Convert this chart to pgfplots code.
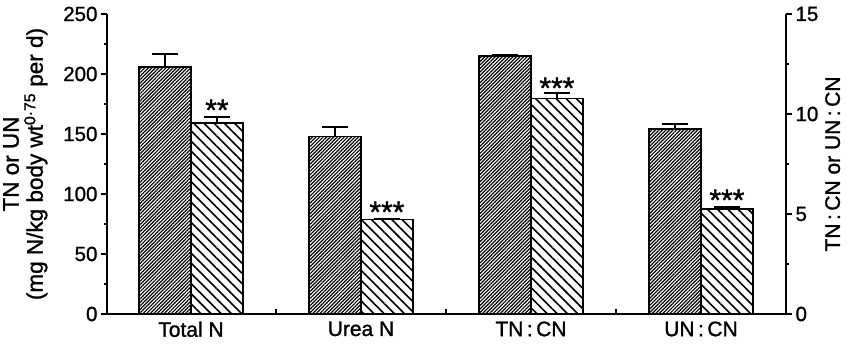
\documentclass[border=0pt]{standalone}
\usepackage{pgfplots}
\pgfplotsset{compat=1.18}
\usepackage{pgfplotstable}
\usepackage{fontspec}
\setmainfont{Liberation Sans}[FakeBold=1.2]
\usetikzlibrary{patterns.meta,calc}
\tikzset{stars/.style={font=\fontsize{30}{30}\selectfont}}

% Left axis (mg N/kg body wt^0.75 per d)
\pgfplotstableread{
x y e
-0.1525 206.0 10.7
0.8475 147.8 8.2
}\darkLeft
\pgfplotstableread{
x y e
0.1525 159.4 4.6
1.1525 78.9 0.8
}\lightLeft
% Right axis (ratio)
\pgfplotstableread{
x y e
1.8475 12.90 0.08
2.8475 9.24 0.26
}\darkRight
\pgfplotstableread{
x y e
2.1525 10.78 0.26
3.1525 5.25 0.11
}\lightRight

\pgfplotsset{
  base/.style={
    scale only axis, width=679pt, height=300pt,
    xmin=-0.494, xmax=3.5,
    ybar, bar width=0.305, bar shift=0pt,
    axis line style={line width=1.5pt},
    tick style={line width=1.3pt,black},
    tick align=outside, major tick length=6pt, minor tick length=3pt,
    tick label style={font=\fontsize{20.5}{22}\selectfont},
    /pgf/number format/assume math mode=true,
    error bars/y dir=plus, error bars/y explicit,
    error bars/error bar style={line width=1.6pt,black},
    error bars/error mark options={rotate=90,line width=1.6pt,mark size=13pt,black},
  },
  darkbar/.style={draw=black, line width=1.6pt, fill=white,
    pattern={Lines[angle=45,distance=2.5pt,line width=1.2pt]}},
  lightbar/.style={draw=black, line width=1.6pt, fill=white,
    pattern={Lines[angle=-45,distance=7.2pt,line width=1.6pt]}},
}

\begin{document}
\begin{tikzpicture}
\begin{axis}[base, name=ax,
  axis y line*=left, axis x line*=bottom,
  ymin=0, ymax=250,
  ytick={0,50,...,250}, minor ytick={25,75,...,225},
  xtick={0.5,1.5,2.5}, xticklabels={}, x tick style={yshift=5pt},
  extra x ticks={0,1,2,3},
  extra x tick labels={Total N, Urea N, TN\,:\,CN, UN\,:\,CN},
  extra x tick style={major tick length=0pt, tick label style={font=\fontsize{21}{23}\selectfont, yshift=-4pt}},
  ylabel={TN or UN\\(mg N/kg body wt\textsuperscript{0·75} per d)},
  ylabel style={align=center, font=\fontsize{22.5}{24}\selectfont, yshift=9pt},
]
\addplot[darkbar] table[x=x,y=y,y error=e]{\darkLeft};
\addplot[lightbar] table[x=x,y=y,y error=e]{\lightLeft};
\node[stars] at (axis cs:0.1525,170) {**};
\node[stars] at (axis cs:1.1525,85) {***};
\end{axis}
\begin{axis}[base,
  axis y line*=right, axis x line=none,
  ymin=0, ymax=15,
  ytick={0,5,10,15}, minor ytick={2.5,7.5,12.5},
  ylabel={TN\,:\,CN or UN\,:\,CN},
  ylabel style={font=\fontsize{21}{22}\selectfont},
]
\addplot[darkbar] table[x=x,y=y,y error=e]{\darkRight};
\addplot[lightbar] table[x=x,y=y,y error=e]{\lightRight};
\node[stars] at (axis cs:2.1525,11.3) {***};
\node[stars] at (axis cs:3.1525,5.7) {***};
\end{axis}
\pgfresetboundingbox
\path[use as bounding box] ($(ax.south west)+(-107pt,-33pt)$) rectangle ($(ax.north east)+(61pt,14pt)$);
\end{tikzpicture}
\end{document}
